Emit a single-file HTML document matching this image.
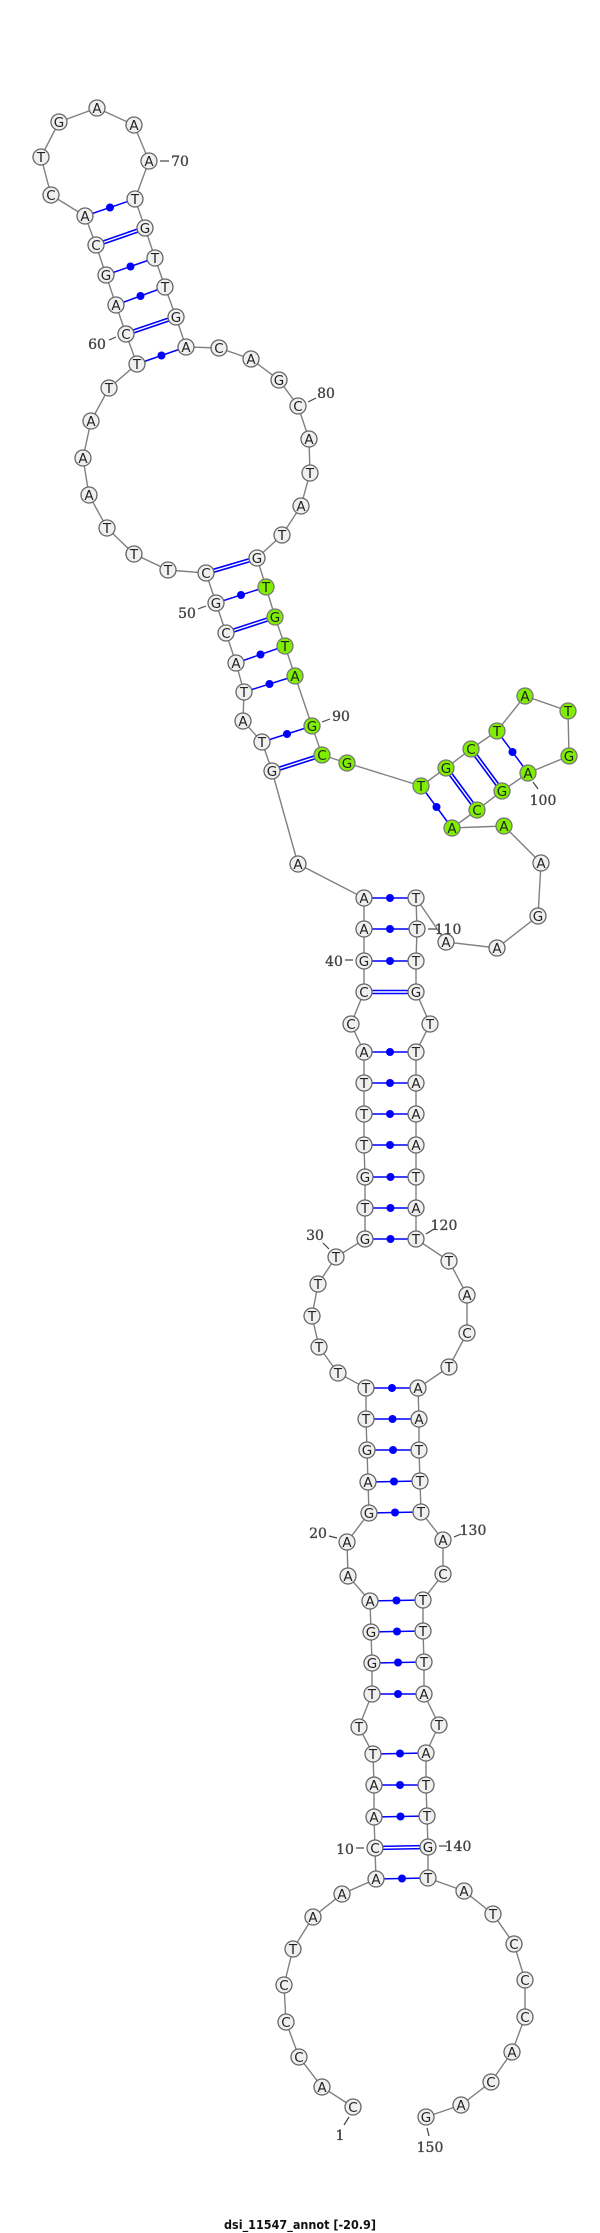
<!DOCTYPE html>
<html><head><meta charset="utf-8"><title>dsi_11547_annot</title>
<style>
html,body{margin:0;padding:0;background:#fff;width:600px;height:2233px;overflow:hidden}
svg{display:block}
.n circle{fill:#f0f0f0;stroke:#666;stroke-width:1.3}
.g circle{fill:#7fee00;stroke:#777;stroke-width:1.3}
.n text,.g text{font:13.5px "DejaVu Sans",sans-serif;fill:#222;text-anchor:middle}
.lb text{font:14px "DejaVu Serif",serif;fill:#444;stroke:#444;stroke-width:.35;text-anchor:middle}
.tk line{stroke:#444;stroke-width:1.2}
.s line{stroke:#0000ff;stroke-width:1.5}
.s circle{fill:#0000ff}
.d1 line{stroke:#0000ff;stroke-width:4.6}
.d2 line{stroke:#fff;stroke-width:1.4}
</style></head><body>
<svg width="600" height="2233" viewBox="0 0 600 2233" xmlns="http://www.w3.org/2000/svg">
<polyline fill="none" stroke="#808080" stroke-width="1.4" points="353,2107 322,2087 299,2057 286,2022 284,1985 293,1949 313,1917 342,1894 376,1879 375,1848 374,1817 374,1785 373,1754 359,1727 372,1694 372,1663 371,1632 370,1601 348,1576 347,1542 369,1513 368,1482 367,1450 366,1419 366,1388 338,1373 319,1347 312,1316 318,1284 336,1257 365,1239 365,1208 365,1177 364,1145 364,1114 364,1083 364,1052 351,1024 364,992 364,961 364,929 364,898 298,864 272,771 262,742 243,721 244,692 236,663 226,633 216,603 206,573 168,570 134,554 107,528 89,495 83,458 91,421 109,388 137,364 126,334 116,305 106,275 96,245 85,216 51,195 41,157 59,122 97,108 134,125 149,161 135,199 145,228 155,258 165,287 176,317 186,347 219,348 251,359 279,380 298,406 309,439 310,473 301,506 282,535 257,558 266,587 275,617 285,646 295,676 312,726 322,755 347,763 421,786 446,768 471,749 497,731 525,696 568,711 569,756 528,773 502,791 477,810 452,828 504,826 541,863 538,916 497,948 446,942 416,898 417,929 416,961 416,992 430,1024 416,1052 416,1083 416,1114 416,1145 416,1177 416,1208 416,1239 449,1261 467,1295 467,1333 449,1367 418,1388 419,1419 419,1450 420,1481 421,1512 443,1540 443,1574 423,1600 423,1631 424,1662 424,1694 439,1725 426,1753 426,1785 427,1816 428,1847 428,1878 464,1891 493,1914 514,1944 525,1980 525,2017 512,2052 491,2082 461,2105 426,2117"/>
<g class="d1">
<line x1="375" y1="1848" x2="428" y2="1847"/><line x1="364" y1="992" x2="416" y2="992"/><line x1="272" y1="771" x2="322" y2="755"/><line x1="226" y1="633" x2="275" y2="617"/><line x1="206" y1="573" x2="257" y2="558"/><line x1="126" y1="334" x2="176" y2="317"/><line x1="96" y1="245" x2="145" y2="228"/><line x1="446" y1="768" x2="477" y2="810"/><line x1="471" y1="749" x2="502" y2="791"/>
</g>
<g class="d2">
<line x1="375" y1="1848" x2="428" y2="1847"/><line x1="364" y1="992" x2="416" y2="992"/><line x1="272" y1="771" x2="322" y2="755"/><line x1="226" y1="633" x2="275" y2="617"/><line x1="206" y1="573" x2="257" y2="558"/><line x1="126" y1="334" x2="176" y2="317"/><line x1="96" y1="245" x2="145" y2="228"/><line x1="446" y1="768" x2="477" y2="810"/><line x1="471" y1="749" x2="502" y2="791"/>
</g>
<g class="s">
<line x1="376" y1="1879" x2="428" y2="1878"/><circle cx="402" cy="1878.5" r="4"/>
<line x1="374" y1="1817" x2="427" y2="1816"/><circle cx="400.5" cy="1816.5" r="4"/>
<line x1="374" y1="1785" x2="426" y2="1785"/><circle cx="400" cy="1785" r="4"/>
<line x1="373" y1="1754" x2="426" y2="1753"/><circle cx="400" cy="1753.5" r="4"/>
<line x1="372" y1="1694" x2="424" y2="1694"/><circle cx="398" cy="1694" r="4"/>
<line x1="372" y1="1663" x2="424" y2="1662"/><circle cx="398" cy="1662.5" r="4"/>
<line x1="371" y1="1632" x2="423" y2="1631"/><circle cx="397" cy="1631.5" r="4"/>
<line x1="370" y1="1601" x2="423" y2="1600"/><circle cx="396.5" cy="1600.5" r="4"/>
<line x1="369" y1="1513" x2="421" y2="1512"/><circle cx="395" cy="1512.5" r="4"/>
<line x1="368" y1="1482" x2="420" y2="1481"/><circle cx="394" cy="1481.5" r="4"/>
<line x1="367" y1="1450" x2="419" y2="1450"/><circle cx="393" cy="1450" r="4"/>
<line x1="366" y1="1419" x2="419" y2="1419"/><circle cx="392.5" cy="1419" r="4"/>
<line x1="366" y1="1388" x2="418" y2="1388"/><circle cx="392" cy="1388" r="4"/>
<line x1="365" y1="1239" x2="416" y2="1239"/><circle cx="390.5" cy="1239" r="4"/>
<line x1="365" y1="1208" x2="416" y2="1208"/><circle cx="390.5" cy="1208" r="4"/>
<line x1="365" y1="1177" x2="416" y2="1177"/><circle cx="390.5" cy="1177" r="4"/>
<line x1="364" y1="1145" x2="416" y2="1145"/><circle cx="390" cy="1145" r="4"/>
<line x1="364" y1="1114" x2="416" y2="1114"/><circle cx="390" cy="1114" r="4"/>
<line x1="364" y1="1083" x2="416" y2="1083"/><circle cx="390" cy="1083" r="4"/>
<line x1="364" y1="1052" x2="416" y2="1052"/><circle cx="390" cy="1052" r="4"/>
<line x1="364" y1="961" x2="416" y2="961"/><circle cx="390" cy="961" r="4"/>
<line x1="364" y1="929" x2="416" y2="929"/><circle cx="390" cy="929" r="4"/>
<line x1="364" y1="898" x2="416" y2="898"/><circle cx="390" cy="898" r="4"/>
<line x1="262" y1="742" x2="312" y2="726"/><circle cx="287" cy="734" r="4"/>
<line x1="244" y1="692" x2="295" y2="676"/><circle cx="269.5" cy="684" r="4"/>
<line x1="236" y1="663" x2="285" y2="646"/><circle cx="260.5" cy="654.5" r="4"/>
<line x1="216" y1="603" x2="266" y2="587"/><circle cx="241" cy="595" r="4"/>
<line x1="137" y1="364" x2="186" y2="347"/><circle cx="161.5" cy="355.5" r="4"/>
<line x1="116" y1="305" x2="165" y2="287"/><circle cx="140.5" cy="296" r="4"/>
<line x1="106" y1="275" x2="155" y2="258"/><circle cx="130.5" cy="266.5" r="4"/>
<line x1="85" y1="216" x2="135" y2="199"/><circle cx="110" cy="207.5" r="4"/>
<line x1="421" y1="786" x2="452" y2="828"/><circle cx="436.5" cy="807" r="4"/>
<line x1="497" y1="731" x2="528" y2="773"/><circle cx="512.5" cy="752" r="4"/>
</g>
<g class="tk">
<line x1="160" y1="161" x2="169" y2="161"/><line x1="109" y1="340" x2="116" y2="337"/><line x1="308" y1="402" x2="316" y2="398"/><line x1="198" y1="609" x2="206" y2="606"/><line x1="322" y1="722" x2="330" y2="719"/><line x1="533" y1="782" x2="538" y2="789"/><line x1="428" y1="929" x2="437" y2="929"/><line x1="345" y1="960" x2="353" y2="960"/><line x1="426" y1="1234" x2="434" y2="1229"/><line x1="323" y1="1243" x2="329" y2="1249"/><line x1="454" y1="1537" x2="461" y2="1534"/><line x1="329" y1="1536" x2="337" y2="1538"/><line x1="439" y1="1846" x2="447" y2="1846"/><line x1="356" y1="1848" x2="364" y2="1848"/><line x1="349" y1="2117" x2="344" y2="2125"/><line x1="427" y1="2128" x2="429" y2="2136"/>
</g>
<g class="n">
<circle cx="353" cy="2107" r="8"/><text x="353" y="2112">C</text>
<circle cx="322" cy="2087" r="8"/><text x="322" y="2092">A</text>
<circle cx="299" cy="2057" r="8"/><text x="299" y="2062">C</text>
<circle cx="286" cy="2022" r="8"/><text x="286" y="2027">C</text>
<circle cx="284" cy="1985" r="8"/><text x="284" y="1990">C</text>
<circle cx="293" cy="1949" r="8"/><text x="293" y="1954">T</text>
<circle cx="313" cy="1917" r="8"/><text x="313" y="1922">A</text>
<circle cx="342" cy="1894" r="8"/><text x="342" y="1899">A</text>
<circle cx="376" cy="1879" r="8"/><text x="376" y="1884">A</text>
<circle cx="375" cy="1848" r="8"/><text x="375" y="1853">C</text>
<circle cx="374" cy="1817" r="8"/><text x="374" y="1822">A</text>
<circle cx="374" cy="1785" r="8"/><text x="374" y="1790">A</text>
<circle cx="373" cy="1754" r="8"/><text x="373" y="1759">T</text>
<circle cx="359" cy="1727" r="8"/><text x="359" y="1732">T</text>
<circle cx="372" cy="1694" r="8"/><text x="372" y="1699">T</text>
<circle cx="372" cy="1663" r="8"/><text x="372" y="1668">G</text>
<circle cx="371" cy="1632" r="8"/><text x="371" y="1637">G</text>
<circle cx="370" cy="1601" r="8"/><text x="370" y="1606">A</text>
<circle cx="348" cy="1576" r="8"/><text x="348" y="1581">A</text>
<circle cx="347" cy="1542" r="8"/><text x="347" y="1547">A</text>
<circle cx="369" cy="1513" r="8"/><text x="369" y="1518">G</text>
<circle cx="368" cy="1482" r="8"/><text x="368" y="1487">A</text>
<circle cx="367" cy="1450" r="8"/><text x="367" y="1455">G</text>
<circle cx="366" cy="1419" r="8"/><text x="366" y="1424">T</text>
<circle cx="366" cy="1388" r="8"/><text x="366" y="1393">T</text>
<circle cx="338" cy="1373" r="8"/><text x="338" y="1378">T</text>
<circle cx="319" cy="1347" r="8"/><text x="319" y="1352">T</text>
<circle cx="312" cy="1316" r="8"/><text x="312" y="1321">T</text>
<circle cx="318" cy="1284" r="8"/><text x="318" y="1289">T</text>
<circle cx="336" cy="1257" r="8"/><text x="336" y="1262">T</text>
<circle cx="365" cy="1239" r="8"/><text x="365" y="1244">G</text>
<circle cx="365" cy="1208" r="8"/><text x="365" y="1213">T</text>
<circle cx="365" cy="1177" r="8"/><text x="365" y="1182">G</text>
<circle cx="364" cy="1145" r="8"/><text x="364" y="1150">T</text>
<circle cx="364" cy="1114" r="8"/><text x="364" y="1119">T</text>
<circle cx="364" cy="1083" r="8"/><text x="364" y="1088">T</text>
<circle cx="364" cy="1052" r="8"/><text x="364" y="1057">A</text>
<circle cx="351" cy="1024" r="8"/><text x="351" y="1029">C</text>
<circle cx="364" cy="992" r="8"/><text x="364" y="997">C</text>
<circle cx="364" cy="961" r="8"/><text x="364" y="966">G</text>
<circle cx="364" cy="929" r="8"/><text x="364" y="934">A</text>
<circle cx="364" cy="898" r="8"/><text x="364" y="903">A</text>
<circle cx="298" cy="864" r="8"/><text x="298" y="869">A</text>
<circle cx="272" cy="771" r="8"/><text x="272" y="776">G</text>
<circle cx="262" cy="742" r="8"/><text x="262" y="747">T</text>
<circle cx="243" cy="721" r="8"/><text x="243" y="726">A</text>
<circle cx="244" cy="692" r="8"/><text x="244" y="697">T</text>
<circle cx="236" cy="663" r="8"/><text x="236" y="668">A</text>
<circle cx="226" cy="633" r="8"/><text x="226" y="638">C</text>
<circle cx="216" cy="603" r="8"/><text x="216" y="608">G</text>
<circle cx="206" cy="573" r="8"/><text x="206" y="578">C</text>
<circle cx="168" cy="570" r="8"/><text x="168" y="575">T</text>
<circle cx="134" cy="554" r="8"/><text x="134" y="559">T</text>
<circle cx="107" cy="528" r="8"/><text x="107" y="533">T</text>
<circle cx="89" cy="495" r="8"/><text x="89" y="500">A</text>
<circle cx="83" cy="458" r="8"/><text x="83" y="463">A</text>
<circle cx="91" cy="421" r="8"/><text x="91" y="426">A</text>
<circle cx="109" cy="388" r="8"/><text x="109" y="393">T</text>
<circle cx="137" cy="364" r="8"/><text x="137" y="369">T</text>
<circle cx="126" cy="334" r="8"/><text x="126" y="339">C</text>
<circle cx="116" cy="305" r="8"/><text x="116" y="310">A</text>
<circle cx="106" cy="275" r="8"/><text x="106" y="280">G</text>
<circle cx="96" cy="245" r="8"/><text x="96" y="250">C</text>
<circle cx="85" cy="216" r="8"/><text x="85" y="221">A</text>
<circle cx="51" cy="195" r="8"/><text x="51" y="200">C</text>
<circle cx="41" cy="157" r="8"/><text x="41" y="162">T</text>
<circle cx="59" cy="122" r="8"/><text x="59" y="127">G</text>
<circle cx="97" cy="108" r="8"/><text x="97" y="113">A</text>
<circle cx="134" cy="125" r="8"/><text x="134" y="130">A</text>
<circle cx="149" cy="161" r="8"/><text x="149" y="166">A</text>
<circle cx="135" cy="199" r="8"/><text x="135" y="204">T</text>
<circle cx="145" cy="228" r="8"/><text x="145" y="233">G</text>
<circle cx="155" cy="258" r="8"/><text x="155" y="263">T</text>
<circle cx="165" cy="287" r="8"/><text x="165" y="292">T</text>
<circle cx="176" cy="317" r="8"/><text x="176" y="322">G</text>
<circle cx="186" cy="347" r="8"/><text x="186" y="352">A</text>
<circle cx="219" cy="348" r="8"/><text x="219" y="353">C</text>
<circle cx="251" cy="359" r="8"/><text x="251" y="364">A</text>
<circle cx="279" cy="380" r="8"/><text x="279" y="385">G</text>
<circle cx="298" cy="406" r="8"/><text x="298" y="411">C</text>
<circle cx="309" cy="439" r="8"/><text x="309" y="444">A</text>
<circle cx="310" cy="473" r="8"/><text x="310" y="478">T</text>
<circle cx="301" cy="506" r="8"/><text x="301" y="511">A</text>
<circle cx="282" cy="535" r="8"/><text x="282" y="540">T</text>
<circle cx="257" cy="558" r="8"/><text x="257" y="563">G</text>
<circle cx="541" cy="863" r="8"/><text x="541" y="868">A</text>
<circle cx="538" cy="916" r="8"/><text x="538" y="921">G</text>
<circle cx="497" cy="948" r="8"/><text x="497" y="953">A</text>
<circle cx="446" cy="942" r="8"/><text x="446" y="947">A</text>
<circle cx="416" cy="898" r="8"/><text x="416" y="903">T</text>
<circle cx="417" cy="929" r="8"/><text x="417" y="934">T</text>
<circle cx="416" cy="961" r="8"/><text x="416" y="966">T</text>
<circle cx="416" cy="992" r="8"/><text x="416" y="997">G</text>
<circle cx="430" cy="1024" r="8"/><text x="430" y="1029">T</text>
<circle cx="416" cy="1052" r="8"/><text x="416" y="1057">T</text>
<circle cx="416" cy="1083" r="8"/><text x="416" y="1088">A</text>
<circle cx="416" cy="1114" r="8"/><text x="416" y="1119">A</text>
<circle cx="416" cy="1145" r="8"/><text x="416" y="1150">A</text>
<circle cx="416" cy="1177" r="8"/><text x="416" y="1182">T</text>
<circle cx="416" cy="1208" r="8"/><text x="416" y="1213">A</text>
<circle cx="416" cy="1239" r="8"/><text x="416" y="1244">T</text>
<circle cx="449" cy="1261" r="8"/><text x="449" y="1266">T</text>
<circle cx="467" cy="1295" r="8"/><text x="467" y="1300">A</text>
<circle cx="467" cy="1333" r="8"/><text x="467" y="1338">C</text>
<circle cx="449" cy="1367" r="8"/><text x="449" y="1372">T</text>
<circle cx="418" cy="1388" r="8"/><text x="418" y="1393">A</text>
<circle cx="419" cy="1419" r="8"/><text x="419" y="1424">A</text>
<circle cx="419" cy="1450" r="8"/><text x="419" y="1455">T</text>
<circle cx="420" cy="1481" r="8"/><text x="420" y="1486">T</text>
<circle cx="421" cy="1512" r="8"/><text x="421" y="1517">T</text>
<circle cx="443" cy="1540" r="8"/><text x="443" y="1545">A</text>
<circle cx="443" cy="1574" r="8"/><text x="443" y="1579">C</text>
<circle cx="423" cy="1600" r="8"/><text x="423" y="1605">T</text>
<circle cx="423" cy="1631" r="8"/><text x="423" y="1636">T</text>
<circle cx="424" cy="1662" r="8"/><text x="424" y="1667">T</text>
<circle cx="424" cy="1694" r="8"/><text x="424" y="1699">A</text>
<circle cx="439" cy="1725" r="8"/><text x="439" y="1730">T</text>
<circle cx="426" cy="1753" r="8"/><text x="426" y="1758">A</text>
<circle cx="426" cy="1785" r="8"/><text x="426" y="1790">T</text>
<circle cx="427" cy="1816" r="8"/><text x="427" y="1821">T</text>
<circle cx="428" cy="1847" r="8"/><text x="428" y="1852">G</text>
<circle cx="428" cy="1878" r="8"/><text x="428" y="1883">T</text>
<circle cx="464" cy="1891" r="8"/><text x="464" y="1896">A</text>
<circle cx="493" cy="1914" r="8"/><text x="493" y="1919">T</text>
<circle cx="514" cy="1944" r="8"/><text x="514" y="1949">C</text>
<circle cx="525" cy="1980" r="8"/><text x="525" y="1985">C</text>
<circle cx="525" cy="2017" r="8"/><text x="525" y="2022">C</text>
<circle cx="512" cy="2052" r="8"/><text x="512" y="2057">A</text>
<circle cx="491" cy="2082" r="8"/><text x="491" y="2087">C</text>
<circle cx="461" cy="2105" r="8"/><text x="461" y="2110">A</text>
<circle cx="426" cy="2117" r="8"/><text x="426" y="2122">G</text>
</g>
<g class="g">
<circle cx="266" cy="587" r="8"/><text x="266" y="592">T</text>
<circle cx="275" cy="617" r="8"/><text x="275" y="622">G</text>
<circle cx="285" cy="646" r="8"/><text x="285" y="651">T</text>
<circle cx="295" cy="676" r="8"/><text x="295" y="681">A</text>
<circle cx="312" cy="726" r="8"/><text x="312" y="731">G</text>
<circle cx="322" cy="755" r="8"/><text x="322" y="760">C</text>
<circle cx="347" cy="763" r="8"/><text x="347" y="768">G</text>
<circle cx="421" cy="786" r="8"/><text x="421" y="791">T</text>
<circle cx="446" cy="768" r="8"/><text x="446" y="773">G</text>
<circle cx="471" cy="749" r="8"/><text x="471" y="754">C</text>
<circle cx="497" cy="731" r="8"/><text x="497" y="736">T</text>
<circle cx="525" cy="696" r="8"/><text x="525" y="701">A</text>
<circle cx="568" cy="711" r="8"/><text x="568" y="716">T</text>
<circle cx="569" cy="756" r="8"/><text x="569" y="761">G</text>
<circle cx="528" cy="773" r="8"/><text x="528" y="778">A</text>
<circle cx="502" cy="791" r="8"/><text x="502" y="796">G</text>
<circle cx="477" cy="810" r="8"/><text x="477" y="815">C</text>
<circle cx="452" cy="828" r="8"/><text x="452" y="833">A</text>
<circle cx="504" cy="826" r="8"/><text x="504" y="831">A</text>
</g>
<g class="lb">
<text x="180" y="166">70</text><text x="97" y="349">60</text><text x="326" y="398">80</text><text x="187" y="618">50</text><text x="341" y="721">90</text><text x="543" y="805">100</text><text x="448" y="934">110</text><text x="334" y="966">40</text><text x="444" y="1230">120</text><text x="315" y="1240">30</text><text x="473" y="1535">130</text><text x="318" y="1538">20</text><text x="458" y="1851">140</text><text x="345" y="1854">10</text><text x="340" y="2140">1</text><text x="430" y="2152">150</text>
</g>
<text x="224" y="2229" font-family="'DejaVu Sans',sans-serif" font-weight="bold" font-size="12" fill="#111" textLength="152" lengthAdjust="spacingAndGlyphs">dsi_11547_annot [-20.9]</text>
</svg>
</body></html>
